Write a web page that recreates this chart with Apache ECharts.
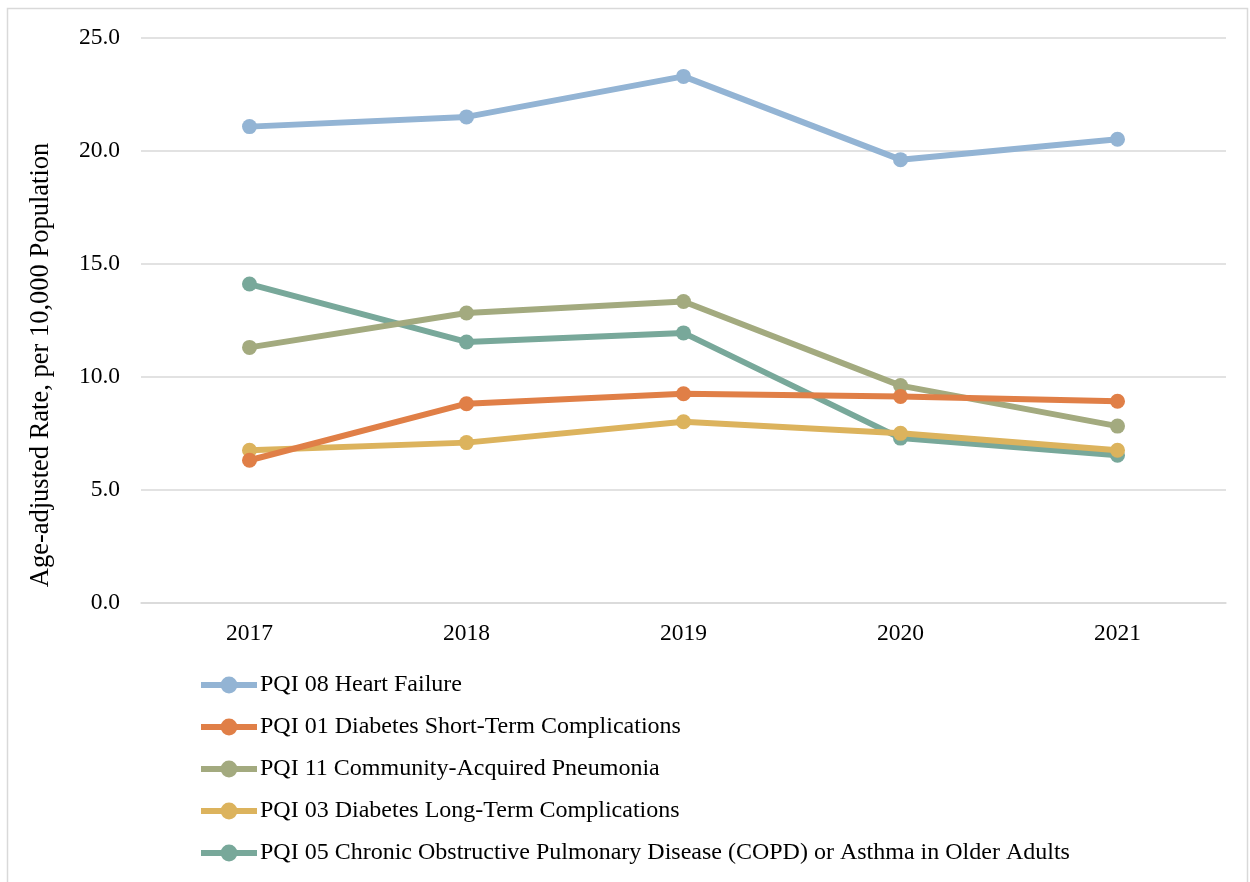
<!DOCTYPE html>
<html>
<head>
<meta charset="utf-8">
<script src="https://cdn.jsdelivr.net/npm/echarts@6/dist/echarts.min.js"></script>
<style>
  html, body { margin: 0; padding: 0; background: #ffffff; }
  #chart { width: 1250px; height: 882px; }
</style>
</head>
<body>
<div id="chart"></div>
<script>
// Age-adjusted PQI rates per 10,000 population, 2017-2021
const years = ['2017', '2018', '2019', '2020', '2021'];
const heartFailure = [21.06, 21.49, 23.28, 19.60, 20.50];
const diabetesShort = [6.31, 8.81, 9.25, 9.13, 8.92];
const pneumonia = [11.30, 12.82, 13.33, 9.61, 7.82];
const diabetesLong = [6.75, 7.09, 8.01, 7.50, 6.75];
const copdAsthma = [14.10, 11.54, 11.94, 7.29, 6.53];

const seriesNames = [
  'PQI 08 Heart Failure',
  'PQI 01 Diabetes Short-Term Complications',
  'PQI 11 Community-Acquired Pneumonia',
  'PQI 03 Diabetes Long-Term Complications',
  'PQI 05 Chronic Obstructive Pulmonary Disease (COPD) or Asthma in Older Adults'
];
const seriesData = [heartFailure, diabetesShort, pneumonia, diabetesLong, copdAsthma];
const colors = ['#93b4d4', '#e07f47', '#a3aa7f', '#dcb35d', '#78a89a'];

const font = '"Liberation Serif", "Times New Roman", serif';

const chart = echarts.init(document.getElementById('chart'), null, { renderer: 'canvas' });

chart.setOption({
  animation: false,
  backgroundColor: '#ffffff',
  textStyle: { fontFamily: font },
  grid: { left: 141, right: 24, top: 37.5, bottom: 279 },
  xAxis: {
    type: 'category',
    data: years,
    boundaryGap: true,
    axisLine: { show: true, lineStyle: { color: '#d9d9d9', width: 1.5 } },
    axisTick: { show: false },
    axisLabel: { color: '#000', fontSize: 23.5, fontFamily: font, margin: 19 }
  },
  yAxis: {
    type: 'value',
    min: 0,
    max: 25,
    interval: 5,
    axisLine: { show: false },
    axisTick: { show: false },
    axisLabel: {
      color: '#000', fontSize: 23.5, fontFamily: font, margin: 21,
      formatter: v => v.toFixed(1)
    },
    splitLine: { lineStyle: { color: '#d9d9d9', width: 1.5 } }
  },
  legend: {
    orient: 'vertical',
    left: 198,
    top: 673,
    padding: 0,
    itemWidth: 56,
    itemHeight: 21,
    itemGap: 18,
    lineStyle: { width: 6 },
    textStyle: { color: '#000', fontSize: 24, fontFamily: font, lineHeight: 24, padding: [0, 0, 0, -2] },
    data: seriesNames
  },
  series: seriesNames.map((name, i) => ({
    name: name,
    type: 'line',
    data: seriesData[i],
    symbol: 'circle',
    symbolSize: 15,
    color: colors[i],
    lineStyle: { width: 6, color: colors[i] },
    itemStyle: { color: colors[i] },
    z: 10 - i
  })),
  graphic: [
    {
      type: 'rect',
      shape: { x: 7.5, y: 8.5, width: 1240, height: 880 },
      style: { fill: 'none', stroke: '#d9d9d9', lineWidth: 1.5 },
      z: -1
    },
    {
      type: 'text',
      x: 41,
      y: 365,
      rotation: Math.PI / 2,
      style: {
        text: 'Age-adjusted Rate, per 10,000 Population',
        font: '26.5px ' + font,
        fill: '#000',
        align: 'center',
        verticalAlign: 'middle'
      }
    }
  ]
});
</script>
</body>
</html>
